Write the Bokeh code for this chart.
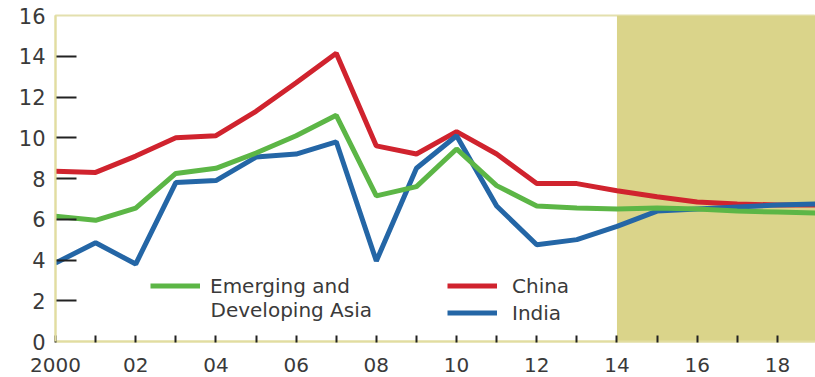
from bokeh.plotting import figure
from bokeh.models import (Range1d, FixedTicker, LinearAxis, BoxAnnotation,
                          Legend, LegendItem, Label)
from bokeh.embed import file_html
from bokeh.resources import INLINE

# ---- data ----
years = list(range(2000, 2020))
china = [8.35, 8.3, 9.1, 10.0, 10.1, 11.3, 12.7, 14.15, 9.6, 9.2, 10.3, 9.2,
         7.75, 7.75, 7.4, 7.1, 6.85, 6.75, 6.7, 6.7]
eda = [6.15, 5.95, 6.55, 8.25, 8.5, 9.25, 10.1, 11.1, 7.15, 7.6, 9.45, 7.65,
       6.65, 6.55, 6.5, 6.55, 6.5, 6.4, 6.35, 6.3]
india = [3.85, 4.85, 3.8, 7.8, 7.9, 9.05, 9.2, 9.8, 3.95, 8.5, 10.1, 6.65,
         4.75, 5.0, 5.65, 6.4, 6.5, 6.6, 6.7, 6.75]
x_ticks = list(range(2000, 2019))
x_tick_labels = {y: (str(y) if y == 2000 else (f"{y % 100:02d}" if y % 2 == 0 else ""))
                 for y in x_ticks}
y_ticks = list(range(0, 17, 2))
y_mark_ticks = list(range(2, 15, 2))
forecast_start = 2014
series_names = ["Emerging and", "China", "India"]
second_line = "Developing Asia"

FONT = "DejaVu Sans"
TXT = "#3a3a3a"
AXIS_Y = "#E2DDA0"
RED = "#D0232E"
GREEN = "#5CB646"
BLUE = "#2466A6"

p = figure(width=815, height=377, output_backend="svg", toolbar_location=None,
           x_range=Range1d(2000, 2018.95), y_range=Range1d(0, 16),
           y_axis_location=None, min_border_left=55, min_border_right=0,
           min_border_top=15, min_border_bottom=36)
p.grid.visible = False
p.outline_line_color = "#E3E0AE"
p.outline_line_width = 2
p.background_fill_color = "white"
p.border_fill_color = "white"

p.add_layout(BoxAnnotation(left=forecast_start, fill_color="#DAD48A", fill_alpha=1,
                           line_color=None, level="underlay"))

# x axis
xa = p.xaxis[0]
xa.ticker = FixedTicker(ticks=x_ticks)
xa.major_label_overrides = x_tick_labels
xa.major_tick_in = 6
xa.major_tick_out = 1
xa.major_tick_line_color = "#222222"
xa.major_tick_line_width = 2
xa.minor_tick_line_color = None
xa.axis_line_color = AXIS_Y
xa.axis_line_width = 2
xa.major_label_text_font = FONT
xa.major_label_text_font_size = "20px"
xa.major_label_text_color = TXT
xa.major_label_standoff = 15

# y axes: one for tick marks only, one for labels
ytick_axis = LinearAxis(ticker=FixedTicker(ticks=y_mark_ticks),
                        major_tick_in=21, major_tick_out=0,
                        major_tick_line_color="#222222", major_tick_line_width=2,
                        major_label_text_font_size="0px", major_label_standoff=0,
                        major_label_overrides={t: "" for t in y_mark_ticks},
                        axis_line_color=None, minor_tick_line_color=None)
ylabel_axis = LinearAxis(ticker=FixedTicker(ticks=y_ticks),
                         major_tick_in=0, major_tick_out=0,
                         major_tick_line_color=None, minor_tick_line_color=None,
                         axis_line_color=AXIS_Y, axis_line_width=2,
                         major_label_standoff=10,
                         major_label_text_font=FONT,
                         major_label_text_font_size="21px",
                         major_label_text_color=TXT)
p.add_layout(ytick_axis, "left")
p.add_layout(ylabel_axis, "left")

r_red = p.line(years, china, line_color=RED, line_width=5)
r_blue = p.line(years, india, line_color=BLUE, line_width=5)
r_green = p.line(years, eda, line_color=GREEN, line_width=5)

common = dict(padding=0, margin=0, border_line_color=None, background_fill_alpha=0,
              glyph_width=50, glyph_height=27, label_height=27, spacing=0,
              label_text_font=FONT, label_text_font_size="20px",
              label_text_color=TXT)
leg1 = Legend(items=[LegendItem(label=series_names[0], renderers=[r_green])],
              location=(95, 42), label_standoff=10, **common)
leg2 = Legend(items=[LegendItem(label=series_names[1], renderers=[r_red]),
                     LegendItem(label=series_names[2], renderers=[r_blue])],
              location=(392, 15), label_standoff=15, **common)
p.add_layout(leg1)
p.add_layout(leg2)
p.add_layout(Label(x=155, y=32, x_units="screen", y_units="screen",
                   text=second_line, text_baseline="middle",
                   text_font=FONT, text_font_size="20px", text_color=TXT))

open("out.html", "w").write(file_html(p, INLINE))
